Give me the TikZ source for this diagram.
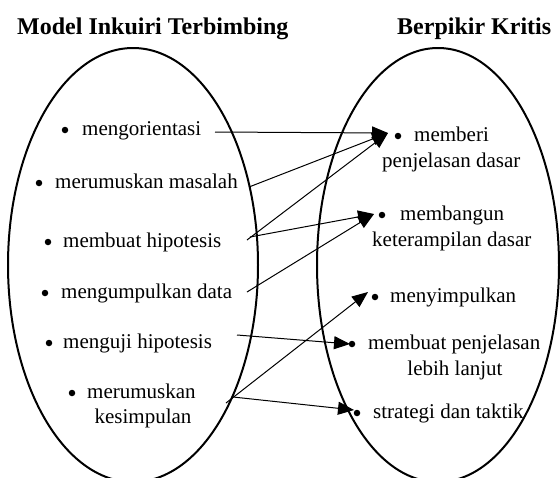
\documentclass[tikz,border=0pt]{standalone}
\usepackage{fontspec}
\setmainfont{Liberation Serif}
\usetikzlibrary{arrows.meta}
\tikzset{
  oval/.style={draw, line width=2pt},
  itemtext/.style={anchor=base west, inner sep=0pt, font=\fontsize{21}{26}\selectfont},
  ctrtext/.style={anchor=base, inner sep=0pt, font=\fontsize{21}{26}\selectfont},
  titletext/.style={anchor=base west, inner sep=0pt, font=\fontsize{24}{28}\selectfont\bfseries},
  dot/.style={circle, fill, inner sep=0pt, minimum size=6.5pt},
  link/.style={line width=1pt, -{Triangle[length=16pt,width=13pt]}}
}
\begin{document}
\begin{tikzpicture}[x=1pt,y=-1pt]
\useasboundingbox (0,0) rectangle (560,477);
% titles
\node[titletext] (t1) at (17,34) {Model Inkuiri Terbimbing};
\node[titletext] (t2) at (397,34) {Berpikir Kritis};
% ellipses
\draw[oval] (133,265) ellipse [x radius=125, y radius=217];
\draw[oval] (438,265) ellipse [x radius=121, y radius=217];
% left items
\node[dot] (lb1) at (65,130) {};
\node[itemtext] (l1) at (82,135) {mengorientasi};
\node[dot] (lb2) at (39,183) {};
\node[itemtext] (l2) at (55,188) {merumuskan masalah};
\node[dot] (lb3) at (48,242) {};
\node[itemtext] (l3) at (63,247) {membuat hipotesis};
\node[dot] (lb4) at (45,293) {};
\node[itemtext] (l4) at (61,298) {mengumpulkan data};
\node[dot] (lb5) at (49,343) {};
\node[itemtext] (l5) at (63,348) {menguji hipotesis};
\node[dot] (lb6) at (72,393) {};
\node[itemtext] (l6) at (87,398) {merumuskan};
\node[ctrtext] (l6b) at (143,423) {kesimpulan};
% right items
\node[dot] (rb1) at (398,136) {};
\node[itemtext] (r1) at (414,141) {memberi};
\node[itemtext] (r1b) at (382,167) {penjelasan dasar};
\node[dot] (rb2) at (382,215) {};
\node[itemtext] (r2) at (400,220) {membangun};
\node[itemtext] (r2b) at (372,246) {keterampilan dasar};
\node[dot] (rb3) at (375,297) {};
\node[itemtext] (r3) at (390,302) {menyimpulkan};
\node[dot] (rb4) at (352,344) {};
\node[itemtext] (r4) at (368,349) {membuat penjelasan};
\node[ctrtext] (r4b) at (455,375) {lebih lanjut};
\node[dot] (rb5) at (357,413) {};
\node[itemtext] (r5) at (373,418) {strategi dan taktik};
% connector ends
\coordinate (s1) at (215,132);
\coordinate (s2) at (249,187);
\coordinate (s3a) at (247,240);
\coordinate (s3b) at (250,237);
\coordinate (s4) at (247,292);
\coordinate (s5) at (237,335);
\coordinate (s6a) at (226,403);
\coordinate (s6b) at (233,397);
\coordinate (e1) at (388,133);
\coordinate (e2) at (374,214);
\coordinate (e3) at (368,292);
\coordinate (e4) at (350,344);
\coordinate (e5) at (354,410);
% connectors
\draw[link] (s1) -- (e1);
\draw[link] (s2) -- (e1);
\draw[link] (s3a) -- (e1);
\draw[link] (s3b) -- (e2);
\draw[link] (s4) -- (e2);
\draw[link] (s5) -- (e4);
\draw[link] (s6a) -- (e3);
\draw[link] (s6b) -- (e5);
\end{tikzpicture}
\end{document}
